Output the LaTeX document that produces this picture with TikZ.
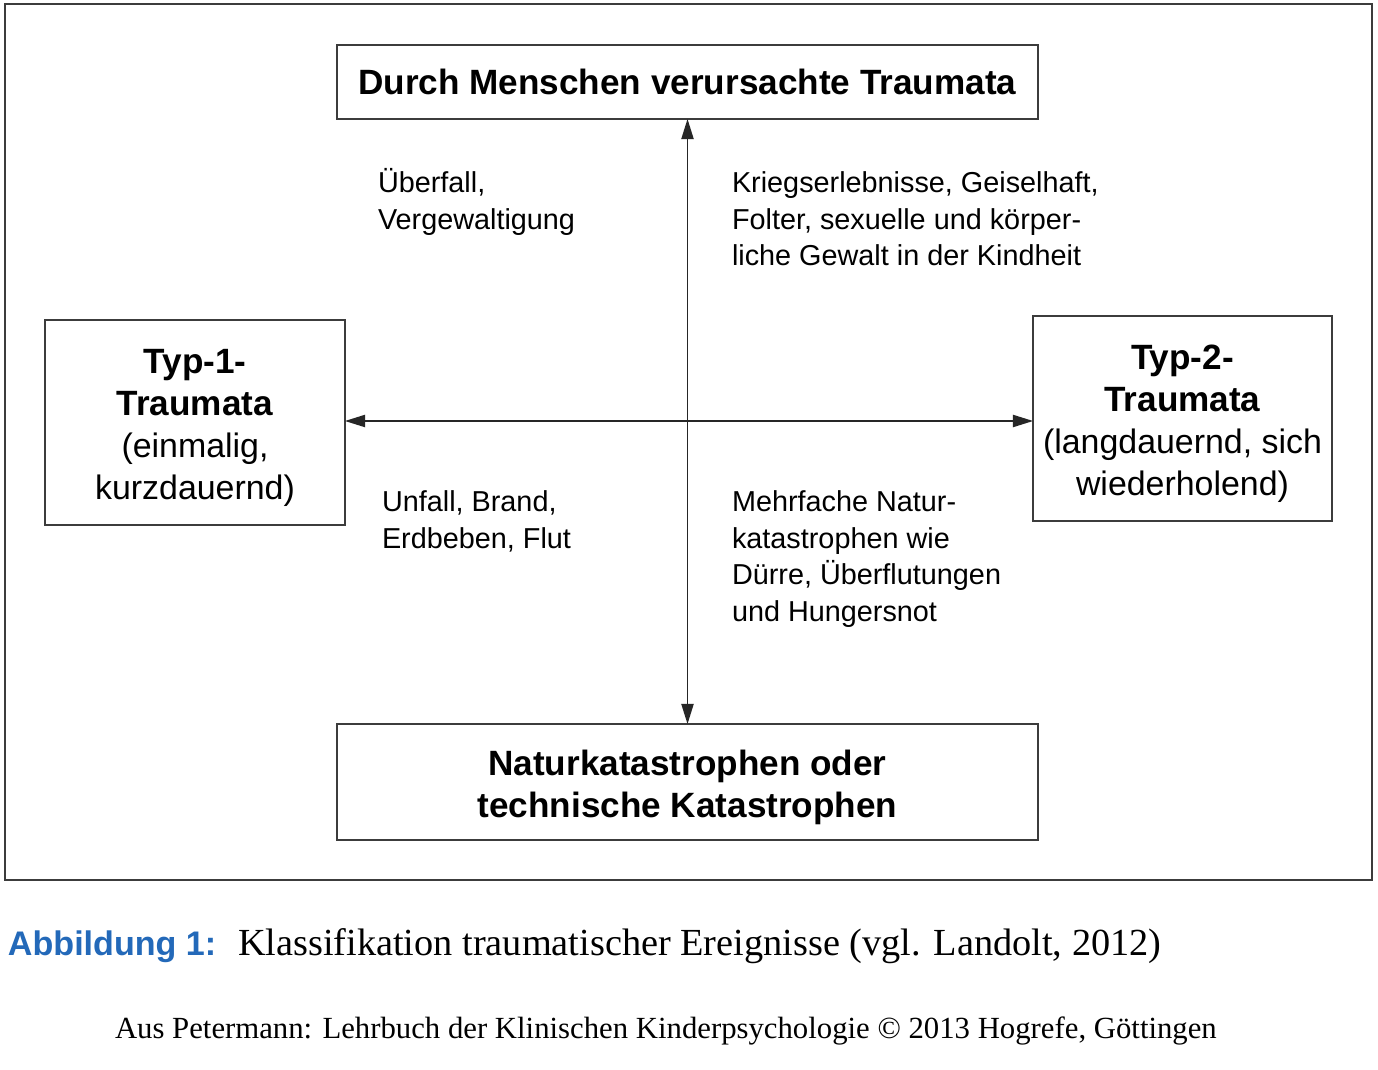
\documentclass[tikz,border=0pt]{standalone}
\usepackage{fontspec}
\setmainfont{Liberation Sans}
\newfontfamily\capserif{Liberation Serif}
\usetikzlibrary{arrows.meta}
\definecolor{framegray}{RGB}{60,60,60}
\definecolor{capblue}{RGB}{35,105,185}
\newcommand{\lite}[1]{{\fontsize{19.3pt}{23.9pt}\selectfont #1}}
\begin{document}
\begin{tikzpicture}[x=0.02cm,y=-0.02cm,
  every node/.style={inner sep=0pt, outer sep=0pt},
  catbox/.style={draw=framegray, line width=1.1pt},
  cattext/.style={align=center, font=\fontsize{20pt}{23.9pt}\selectfont},
  % base anchor of a multi-line node sits on its last line
  example/.style={anchor=base west, align=left,
    font=\fontsize{16.4pt}{20.8pt}\selectfont},
  axis/.style={line width=0.8pt, black!85,
    {Triangle[length=11.5pt,width=7pt]}-{Triangle[length=11.5pt,width=7pt]}}]
  % page and outer frame
  \useasboundingbox (0,0) rectangle (1378,1070);
  \fill[white] (0,0) rectangle (1378,1070);
  \draw[framegray, line width=1.2pt] (5,4) rectangle (1372,880);

  % the four category boxes
  \node[catbox, minimum width=14.02cm, minimum height=1.48cm] (top) at (687.5,82) {};
  \node[catbox, minimum width=6cm, minimum height=4.1cm] (left) at (195,422.5) {};
  \node[catbox, minimum width=5.98cm, minimum height=4.1cm] (right) at (1182.5,418.5) {};
  \node[catbox, minimum width=14.02cm, minimum height=2.32cm] (bottom) at (687.5,782) {};

  % their labels
  \node[cattext] (toptext) at (top.center)
    {\textbf{Durch Menschen verursachte Traumata}};
  \node[cattext] (lefttext) at ([yshift=-0.1cm]left.center)
    {\textbf{Typ-1-}\\\textbf{Traumata}\\\lite{(einmalig,}\\\lite{kurzdauernd)}};
  \node[cattext] (righttext) at ([yshift=-0.1cm]right.center)
    {\textbf{Typ-2-}\\\textbf{Traumata}\\\lite{(langdauernd, sich}\\\lite{wiederholend)}};
  \node[cattext] (bottomtext) at ([yshift=-0.1cm]bottom.center)
    {\textbf{Naturkatastrophen oder}\\\textbf{technische Katastrophen}};

  % axes
  \coordinate (cross) at (687.5,421);
  \draw[axis] (top.south) -- (bottom.north);
  \draw[axis] (left.east |- cross) -- (right.west |- cross);

  % examples in the four quadrants
  \node[example] (q1) at (378,229.5) {Überfall,\\Vergewaltigung};
  \node[example] (q2) at (732,266) {Kriegserlebnisse, Geiselhaft,\\Folter, sexuelle und körper-\\liche Gewalt in der Kindheit};
  \node[example] (q3) at (382,548.5) {Unfall, Brand,\\Erdbeben, Flut};
  \node[example] (q4) at (732,621.5) {Mehrfache Natur-\\katastrophen wie\\Dürre, Überflutungen\\und Hungersnot};

  % caption and source line
  \node[anchor=base west] (capl) at (8,955)
    {\fontsize{19.4pt}{22pt}\selectfont\color{capblue}\textbf{Abbildung 1:}};
  \node[anchor=base west] (capt) at (238,955)
    {\capserif\fontsize{21.8pt}{24pt}\selectfont Klassifikation traumatischer Ereignisse (vgl. Landolt, 2012)};
  \node[anchor=base west] (src) at (115,1038)
    {\capserif\fontsize{17.5pt}{20pt}\selectfont Aus Petermann: Lehrbuch der Klinischen Kinderpsychologie © 2013 Hogrefe, Göttingen};
\end{tikzpicture}
\end{document}
